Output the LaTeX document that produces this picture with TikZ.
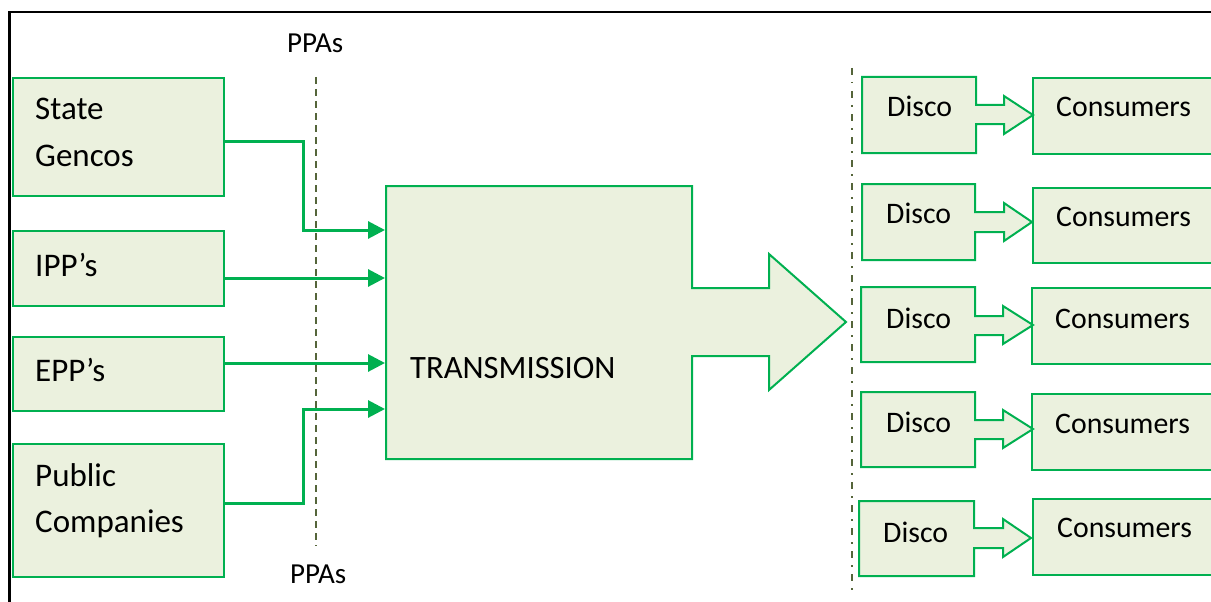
\documentclass[tikz,border=0pt]{standalone}
\usepackage{fontspec}
\setmainfont{Carlito}
\usetikzlibrary{arrows.meta}
\definecolor{boxfill}{HTML}{EBF1DE}
\definecolor{boxline}{HTML}{00B050}
\definecolor{divider}{HTML}{55653A}

\begin{document}
\begin{tikzpicture}[x=1pt,y=-1pt,
  box/.style={draw=boxline, fill=boxfill, line width=2pt, rectangle, inner sep=0pt, anchor=north west},
  shapeline/.style={draw=boxline, fill=boxfill, line width=2pt, line join=miter},
  lbl/.style={anchor=base west, inner sep=0pt, font=\fontsize{33}{38}\selectfont},
  tlbl/.style={anchor=base west, inner sep=0pt, font=\fontsize{32.6}{38}\selectfont},
  rlbl/.style={anchor=base west, inner sep=0pt, font=\fontsize{29.8}{36}\selectfont},
  ppa/.style={anchor=base west, inner sep=0pt, font=\fontsize{29}{32}\selectfont},
  feed/.style={draw=boxline, line width=3pt, -{Triangle[length=17pt,width=17pt]}},
  ppaline/.style={draw=divider, line width=2.5pt, dash pattern=on 7pt off 5pt},
  splitline/.style={draw=divider, line width=2.5pt, dash pattern=on 7pt off 7pt on 1.5pt off 7.5pt},
]
\useasboundingbox (0,0) rectangle (1211,602);

% outer frame
\draw[line width=2.5pt] (9.5,640) -- (9.5,12) -- (1240,12);

% generators
\node[box, minimum width=211pt, minimum height=118pt] (gencos) at (12,77) {};
\node[box, minimum width=211pt, minimum height=75pt]  (ipp)    at (12,230) {};
\node[box, minimum width=211pt, minimum height=74pt]  (epp)    at (12,336) {};
\node[box, minimum width=211pt, minimum height=133pt] (pub)    at (12,443) {};
\node[lbl] (tState)   at (35,120) {State};
\node[lbl] (tGencos)  at (35,166) {Gencos};
\node[lbl] (tIpp)     at (35,276) {IPP’s};
\node[lbl] (tEpp)     at (35,381) {EPP’s};
\node[lbl] (tPublic)  at (35,486) {Public};
\node[lbl] (tComp)    at (35,532) {Companies};

% PPA boundary
\coordinate (ppaTop) at (316,77);
\coordinate (ppaBot) at (316,546);
\draw[ppaline] (ppaTop) -- (ppaBot);
\node[ppa] (ppaA) at (287,53) {PPAs};
\node[ppa] (ppaB) at (290,583) {PPAs};

% transmission block with its outgoing arrow
\draw[shapeline] (386,186) -- (692,186) -- (692,288) -- (769,288) -- (769,254)
  -- (846,322) -- (769,390) -- (769,356) -- (692,356) -- (692,459) -- (386,459) -- cycle;
\node[tlbl] (tTrans) at (410,378) {TRANSMISSION};
\coordinate (in1) at (385,230);
\coordinate (in2) at (385,278);
\coordinate (in3) at (385,363);
\coordinate (in4) at (385,409);
\coordinate (jogA) at (303,230);
\coordinate (jogB) at (303,409);

% feeds into transmission
\draw[feed] ([yshift=-4pt]gencos.east) -| (jogA) -- (in1);
\draw[feed] (ipp.east |- in2) -- (in2);
\draw[feed] (epp.east |- in3) -- (in3);
\draw[feed] ([yshift=7.5pt]pub.east) -| (jogB) -- (in4);

% distribution boundary
\coordinate (splitTop) at (852,68);
\coordinate (splitBot) at (852,594);
\draw[splitline] (splitTop) -- (splitBot);

% disco blocks with arrows and consumers
\foreach \i/\l/\r/\t/\b/\st/\sb/\hx/\ht/\hb/\tx/\ty/\cl/\ct/\cb/\dx/\dy/\cx/\cy in {
  1/862/976/77/153/105/124/1004/96/134/1033/115/1032/77/153/887/117/1056/117,
  2/862/975/184/260/212/232/1004/203/241/1032/222/1032/187/262/886/223/1056/226,
  3/861/975/287/362/316/335/1003/306/344/1033/325/1031/287/363/886/328/1055/328,
  4/861/975/392/467/420/439/1003/410/448/1033/429/1031/393/469/886/432/1055/433,
  5/859/974/501/576/528/548/1003/519/557/1031/538/1032/498/574/883/542/1057/537}{
  \node[box, minimum width=210pt, minimum height={\cb-\ct}] (cons\i) at (\cl,\ct) {};
  \draw[shapeline] (\l,\t) -- (\r,\t) -- (\r,\st) -- (\hx,\st) -- (\hx,\ht) -- (\tx,\ty)
    -- (\hx,\hb) -- (\hx,\sb) -- (\r,\sb) -- (\r,\b) -- (\l,\b) -- cycle;
  \node[rlbl] (disco\i) at (\dx,\dy) {Disco};
  \node[rlbl] (consTxt\i) at (\cx,\cy) {Consumers};
}
\end{tikzpicture}
\end{document}
